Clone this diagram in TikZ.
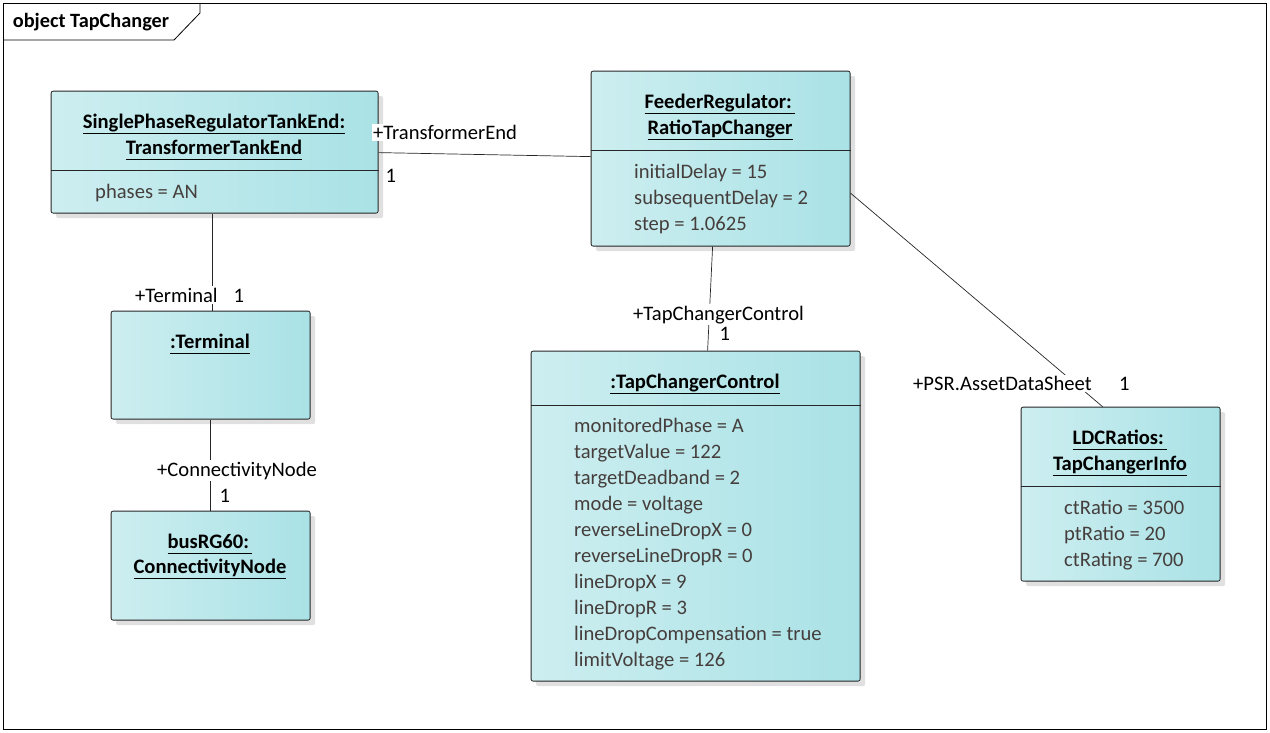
\documentclass[tikz,border=0pt]{standalone}
\usepackage{fontspec}
\setmainfont{Carlito}
\usetikzlibrary{shadows,calc}
\definecolor{boxL}{HTML}{CDEEF0}
\definecolor{boxR}{HTML}{A9E2E6}
\definecolor{attrc}{HTML}{453E3C}
\newcommand\uln[1]{\setbox0\hbox{#1}\rlap{\rule[-5.5pt]{\wd0}{0.9pt}}\box0}
\begin{document}
\begin{tikzpicture}[x=1pt,y=-1pt,
  font=\fontsize{20.6}{24}\selectfont,
  obj/.style={draw=black!85, line width=0.8pt, rounded corners=2pt,
    left color=boxL, right color=boxR,
    general shadow={fill=black!12, shadow xshift=5pt, shadow yshift=-5pt},
    inner sep=0pt, anchor=north west},
  ttl/.style={font=\fontsize{20.6}{24}\selectfont\bfseries, anchor=base, inner sep=0pt, yshift=-1.5pt},
  att/.style={text=attrc, anchor=base west, inner sep=0pt, yshift=-1.5pt},
  lbl/.style={fill=white, inner sep=1.5pt, anchor=base west, yshift=-1.5pt},
  conn/.style={draw=black!85, line width=0.7pt},
  divl/.style={draw=black!85, line width=0.8pt}]
\useasboundingbox (0,0) rectangle (1270,732);
% frame
\draw[line width=0.8pt] (3,3) rectangle (1266,729);
\draw[line width=0.8pt] (3,40) -- (174,40) -- (200,13) -- (200,3);
\node[anchor=base west, inner sep=0pt, font=\fontsize{20.3}{24}\selectfont\bfseries] (frametitle) at (12.7,27.5) {object TapChanger};

% boxes
\node[obj, minimum width=327pt, minimum height=122pt] (tankend) at (50.7,90.7) {};
\node[obj, minimum width=259pt, minimum height=175pt] (feeder) at (590.7,70.7) {};
\node[obj, minimum width=199pt, minimum height=108pt] (terminal) at (110.7,310.7) {};
\node[obj, minimum width=199pt, minimum height=109pt] (bus) at (110.7,510.7) {};
\node[obj, minimum width=329pt, minimum height=330pt] (tcc) at (530.7,350.7) {};
\node[obj, minimum width=199pt, minimum height=174pt] (ldc) at (1020.7,406.7) {};

% tankend contents
\node[ttl] (t1a) at (214,126.7) {\uln{SinglePhaseRegulatorTankEnd:}};
\node[ttl] (t1b) at (214,152.7) {\uln{TransformerTankEnd}};
\draw[divl] (tankend.west |- 0,170) -- (tankend.east |- 0,170);
\node[att] (a1) at (95,197) {phases = AN};

% feeder contents
\node[ttl] (t2a) at (720,106.7) {\uln{FeederRegulator:\,}};
\node[ttl] (t2b) at (720,132.7) {\uln{RatioTapChanger}};
\draw[divl] (feeder.west |- 0,150) -- (feeder.east |- 0,150);
\node[att] (a2a) at (634,176.7) {initialDelay = 15};
\node[att] (a2b) at (634,202.7) {subsequentDelay = 2};
\node[att] (a2c) at (634,228.7) {step = 1.0625};

% terminal
\node[ttl] (t3) at (210,346.7) {\uln{:Terminal}};

% bus
\node[ttl] (t4a) at (210,546.7) {\uln{busRG60:\,}};
\node[ttl] (t4b) at (210,572) {\uln{ConnectivityNode}};

% tcc
\node[ttl] (t5) at (695,386.7) {\uln{:TapChangerControl}};
\draw[divl] (tcc.west |- 0,405) -- (tcc.east |- 0,405);
\node[att] (b1) at (574,430.7) {monitoredPhase = A};
\node[att] (b2) at (574,456.7) {targetValue = 122};
\node[att] (b3) at (574,482.7) {targetDeadband = 2};
\node[att] (b4) at (574,508.7) {mode = voltage};
\node[att] (b5) at (574,534.7) {reverseLineDropX = 0};
\node[att] (b6) at (574,560.7) {reverseLineDropR = 0};
\node[att] (b7) at (574,586.7) {lineDropX = 9};
\node[att] (b8) at (574,612.7) {lineDropR = 3};
\node[att] (b9) at (574,638.7) {lineDropCompensation = true};
\node[att] (b10) at (574,664.7) {limitVoltage = 126};

% ldc
\node[ttl] (t6a) at (1120,443.3) {\uln{LDCRatios:\,}};
\node[ttl] (t6b) at (1120,468.7) {\uln{TapChangerInfo}};
\draw[divl] (ldc.west |- 0,486.7) -- (ldc.east |- 0,486.7);
\node[att] (c1) at (1064,512.7) {ctRatio = 3500};
\node[att] (c2) at (1064,538.7) {ptRatio = 20};
\node[att] (c3) at (1064,564.7) {ctRating = 700};

% connectors
\draw[conn] ($(tankend.east)+(0,0.5)$) -- ($(feeder.west)+(0,-2)$);
\draw[conn] ($(tankend.south)+(-2,0)$) -- ($(terminal.north)+(2,0)$);
\draw[conn] (terminal.south) -- (bus.north);
\draw[conn] ($(feeder.south)+(-8,0)$) -- ($(tcc.north)+(12,0)$);
\draw[conn] ($(feeder.east)+(0,34.5)$) -- ($(ldc.north)+(-18,0)$);

% connector labels
\node[lbl] (l1) at (371.5,138.3) {+TransformerEnd};
\node[lbl] (l1m) at (384,180.7) {1};
\node[lbl] (l2) at (133.5,300.7) {+Terminal};
\node[lbl] (l2m) at (232,300.7) {1};
\node[lbl] (l3) at (155.5,474.7) {+ConnectivityNode};
\node[lbl] (l3m) at (218,500.7) {1};
\node[lbl] (l4) at (631.5,318.7) {+TapChangerControl};
\node[lbl] (l4m) at (718,338.7) {1};
\node[lbl] (l5) at (911.5,389.3) {+PSR.AssetDataSheet};
\node[lbl] (l5m) at (1117.5,389.3) {1};
\end{tikzpicture}
\end{document}
